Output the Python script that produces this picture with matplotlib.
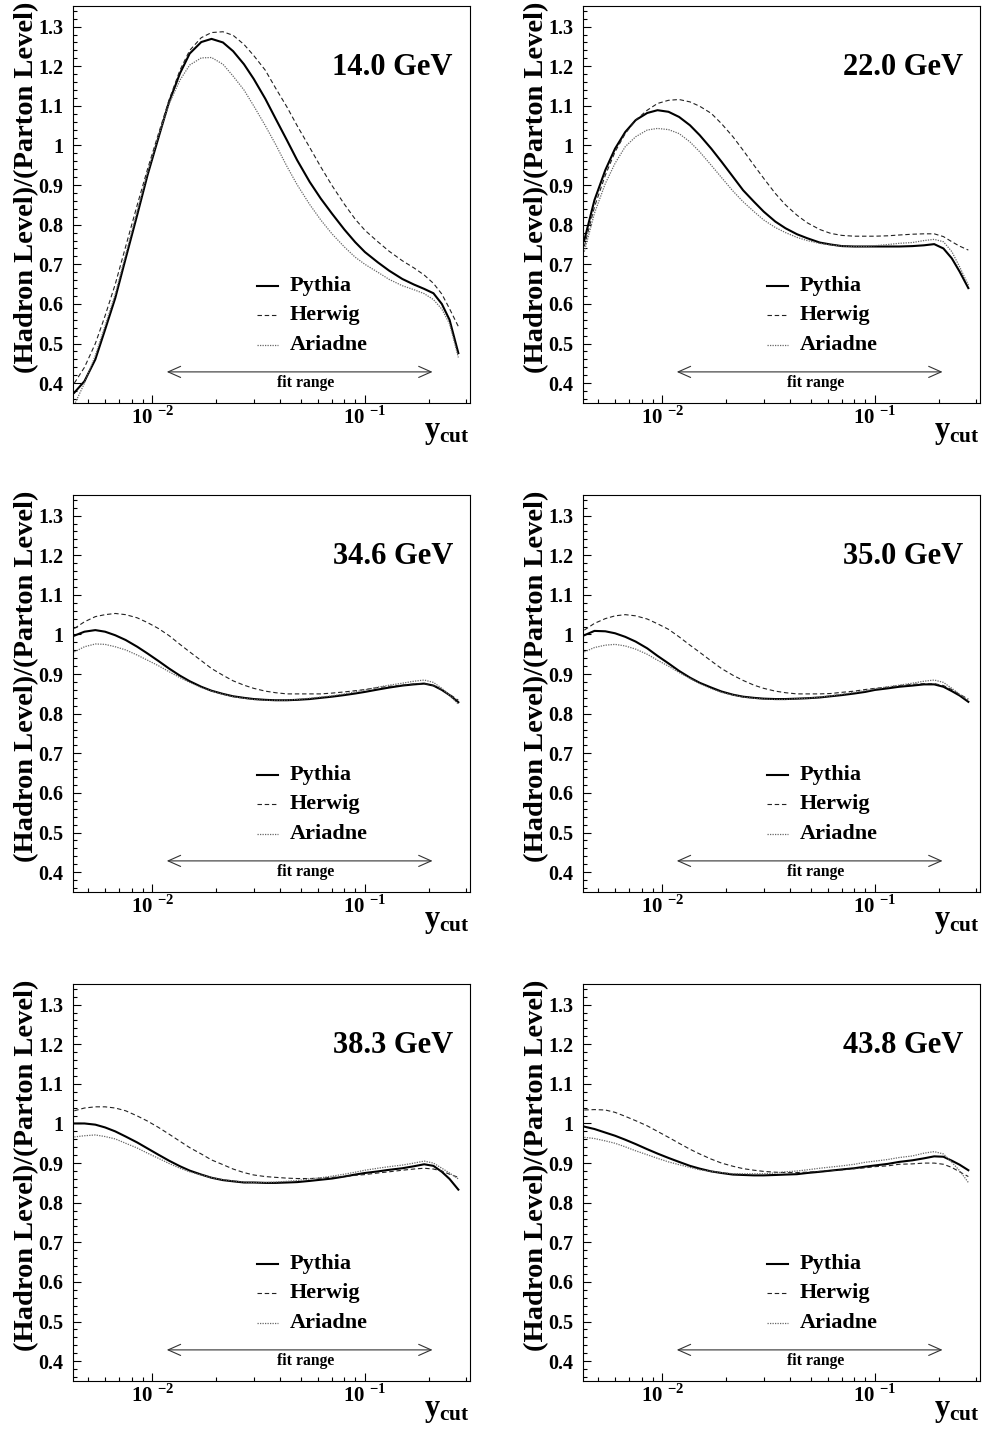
# Ratio hadron level / parton level cho 6 năng lượng
import numpy as np
import matplotlib
matplotlib.use("Agg")
import matplotlib.pyplot as plt
from matplotlib.ticker import MultipleLocator, NullFormatter

plt.rcParams['font.family'] = 'Liberation Serif'
plt.rcParams['font.weight'] = 'bold'
plt.rcParams['mathtext.fontset'] = 'custom'
plt.rcParams['mathtext.rm'] = 'Liberation Serif'
plt.rcParams['mathtext.bf'] = 'Liberation Serif:bold'

# Dữ liệu
ycut = [0.0043, 0.0048, 0.0054, 0.006, 0.0067, 0.0075, 0.0085, 0.0095, 0.0107, 0.012,
        0.0135, 0.015, 0.017, 0.019, 0.0215, 0.024, 0.027, 0.03, 0.034, 0.038,
        0.043, 0.048, 0.055, 0.062, 0.07, 0.08, 0.09, 0.1, 0.115, 0.13,
        0.15, 0.17, 0.19, 0.21, 0.23, 0.25, 0.275]

energies = ["14.0 GeV", "22.0 GeV", "34.6 GeV", "35.0 GeV", "38.3 GeV", "43.8 GeV"]
models = ["Pythia", "Herwig", "Ariadne"]

pythia_14 = [0.376, 0.405, 0.46, 0.535, 0.615, 0.715, 0.825, 0.925, 1.02, 1.11,
             1.182, 1.232, 1.261, 1.269, 1.260, 1.238, 1.205, 1.168, 1.118, 1.068,
             1.013, 0.963, 0.908, 0.866, 0.828, 0.788, 0.756, 0.731, 0.705, 0.684,
             0.663, 0.649, 0.638, 0.627, 0.600, 0.560, 0.476]
herwig_14 = [0.40, 0.44, 0.50, 0.57, 0.65, 0.745, 0.85, 0.94, 1.03, 1.115,
             1.19, 1.24, 1.272, 1.285, 1.287, 1.278, 1.255, 1.227, 1.19, 1.145,
             1.097, 1.05, 0.995, 0.946, 0.899, 0.852, 0.814, 0.786, 0.757, 0.733,
             0.709, 0.691, 0.673, 0.652, 0.625, 0.588, 0.543]
ariadne_14 = [0.345, 0.40, 0.47, 0.545, 0.625, 0.725, 0.835, 0.932, 1.025, 1.105,
              1.165, 1.203, 1.221, 1.222, 1.205, 1.175, 1.140, 1.100, 1.05, 1.003,
              0.947, 0.901, 0.851, 0.812, 0.777, 0.744, 0.718, 0.700, 0.680, 0.662,
              0.646, 0.636, 0.626, 0.611, 0.587, 0.55, 0.465]

pythia_22 = [0.761, 0.862, 0.938, 0.992, 1.034, 1.064, 1.082, 1.089, 1.085, 1.072,
             1.051, 1.026, 0.992, 0.959, 0.921, 0.887, 0.858, 0.833, 0.808, 0.791,
             0.776, 0.766, 0.755, 0.750, 0.746, 0.745, 0.745, 0.745, 0.745, 0.745,
             0.746, 0.748, 0.751, 0.740, 0.715, 0.682, 0.640]
herwig_22 = [0.745, 0.845, 0.925, 0.984, 1.030, 1.064, 1.089, 1.106, 1.114, 1.116,
             1.110, 1.099, 1.081, 1.055, 1.022, 0.988, 0.950, 0.917, 0.879, 0.850,
             0.824, 0.805, 0.788, 0.778, 0.773, 0.771, 0.771, 0.771, 0.772, 0.774,
             0.776, 0.777, 0.777, 0.770, 0.757, 0.746, 0.736]
ariadne_22 = [0.732, 0.829, 0.904, 0.955, 0.997, 1.022, 1.039, 1.043, 1.040, 1.030,
              1.009, 0.984, 0.950, 0.919, 0.885, 0.858, 0.833, 0.812, 0.793, 0.780,
              0.768, 0.760, 0.753, 0.749, 0.746, 0.745, 0.745, 0.747, 0.750, 0.753,
              0.755, 0.760, 0.763, 0.757, 0.732, 0.694, 0.648]

pythia_346 = [0.997, 1.007, 1.011, 1.007, 0.998, 0.986, 0.969, 0.952, 0.933, 0.914,
              0.896, 0.882, 0.868, 0.858, 0.850, 0.844, 0.840, 0.837, 0.835, 0.834,
              0.834, 0.835, 0.837, 0.840, 0.843, 0.847, 0.851, 0.855, 0.861, 0.866,
              0.871, 0.874, 0.876, 0.871, 0.860, 0.847, 0.829]
herwig_346 = [1.015, 1.032, 1.045, 1.050, 1.053, 1.050, 1.042, 1.030, 1.015, 0.997,
              0.975, 0.956, 0.934, 0.914, 0.897, 0.883, 0.872, 0.864, 0.857, 0.853,
              0.850, 0.850, 0.850, 0.850, 0.852, 0.855, 0.858, 0.861, 0.866, 0.869,
              0.872, 0.875, 0.876, 0.871, 0.860, 0.849, 0.834]
ariadne_346 = [0.956, 0.969, 0.976, 0.975, 0.969, 0.961, 0.948, 0.935, 0.921, 0.906,
               0.891, 0.879, 0.866, 0.857, 0.849, 0.843, 0.839, 0.836, 0.834, 0.834,
               0.834, 0.836, 0.839, 0.842, 0.845, 0.850, 0.855, 0.860, 0.867, 0.872,
               0.877, 0.882, 0.885, 0.879, 0.864, 0.847, 0.824]

pythia_35 = [0.998, 1.009, 1.008, 1.003, 0.994, 0.982, 0.965, 0.946, 0.927, 0.908,
             0.891, 0.878, 0.866, 0.856, 0.848, 0.843, 0.840, 0.838, 0.837, 0.837,
             0.838, 0.839, 0.841, 0.844, 0.847, 0.851, 0.855, 0.860, 0.864, 0.868,
             0.871, 0.874, 0.874, 0.868, 0.857, 0.846, 0.830]
herwig_35 = [1.011, 1.028, 1.040, 1.047, 1.050, 1.047, 1.039, 1.027, 1.013, 0.994,
             0.973, 0.955, 0.933, 0.914, 0.897, 0.884, 0.872, 0.864, 0.857, 0.853,
             0.850, 0.850, 0.850, 0.851, 0.854, 0.857, 0.861, 0.864, 0.867, 0.871,
             0.874, 0.876, 0.876, 0.871, 0.861, 0.849, 0.837]
ariadne_35 = [0.956, 0.967, 0.973, 0.975, 0.971, 0.963, 0.950, 0.935, 0.920, 0.904,
              0.889, 0.876, 0.863, 0.854, 0.847, 0.842, 0.839, 0.837, 0.836, 0.836,
              0.838, 0.839, 0.842, 0.845, 0.849, 0.854, 0.858, 0.863, 0.868, 0.872,
              0.877, 0.882, 0.885, 0.879, 0.864, 0.849, 0.834]

pythia_383 = [1.000, 1.000, 0.997, 0.990, 0.980, 0.967, 0.952, 0.937, 0.921, 0.906,
              0.892, 0.881, 0.871, 0.863, 0.857, 0.854, 0.851, 0.851, 0.850, 0.850,
              0.851, 0.852, 0.855, 0.858, 0.861, 0.866, 0.871, 0.875, 0.879, 0.883,
              0.887, 0.892, 0.897, 0.893, 0.878, 0.860, 0.833]
herwig_383 = [1.032, 1.039, 1.042, 1.042, 1.039, 1.032, 1.019, 1.006, 0.990, 0.973,
              0.955, 0.939, 0.923, 0.908, 0.896, 0.885, 0.876, 0.870, 0.866, 0.864,
              0.862, 0.861, 0.861, 0.862, 0.864, 0.866, 0.869, 0.871, 0.875, 0.878,
              0.882, 0.885, 0.887, 0.885, 0.880, 0.872, 0.864]
ariadne_383 = [0.966, 0.969, 0.971, 0.967, 0.961, 0.950, 0.938, 0.925, 0.912, 0.899,
               0.887, 0.878, 0.870, 0.863, 0.858, 0.855, 0.852, 0.851, 0.851, 0.852,
               0.854, 0.856, 0.860, 0.863, 0.867, 0.872, 0.877, 0.882, 0.887, 0.891,
               0.895, 0.900, 0.905, 0.900, 0.887, 0.875, 0.860]

pythia_438 = [0.992, 0.986, 0.977, 0.969, 0.959, 0.948, 0.935, 0.924, 0.913, 0.903,
              0.893, 0.886, 0.879, 0.875, 0.871, 0.870, 0.869, 0.869, 0.870, 0.871,
              0.872, 0.875, 0.878, 0.881, 0.884, 0.887, 0.891, 0.894, 0.898, 0.903,
              0.907, 0.912, 0.917, 0.916, 0.906, 0.896, 0.882]
herwig_438 = [1.034, 1.035, 1.034, 1.028, 1.018, 1.007, 0.994, 0.980, 0.965, 0.950,
              0.935, 0.923, 0.910, 0.900, 0.892, 0.886, 0.882, 0.879, 0.877, 0.876,
              0.876, 0.877, 0.879, 0.881, 0.883, 0.886, 0.888, 0.891, 0.893, 0.897,
              0.898, 0.900, 0.900, 0.897, 0.889, 0.878, 0.866]
ariadne_438 = [0.965, 0.962, 0.956, 0.950, 0.941, 0.931, 0.921, 0.912, 0.903, 0.896,
               0.889, 0.883, 0.879, 0.876, 0.873, 0.873, 0.873, 0.873, 0.875, 0.878,
               0.880, 0.883, 0.887, 0.890, 0.893, 0.897, 0.902, 0.905, 0.909, 0.914,
               0.918, 0.925, 0.929, 0.923, 0.902, 0.881, 0.851]

curves = [
    (pythia_14, herwig_14, ariadne_14),
    (pythia_22, herwig_22, ariadne_22),
    (pythia_346, herwig_346, ariadne_346),
    (pythia_35, herwig_35, ariadne_35),
    (pythia_383, herwig_383, ariadne_383),
    (pythia_438, herwig_438, ariadne_438),
]

# Trục và nhãn
yticks = [0.4, 0.5, 0.6, 0.7, 0.8, 0.9, 1.0, 1.1, 1.2, 1.3]
ytick_labels = ['0.4', '0.5', '0.6', '0.7', '0.8', '0.9', '1', '1.1', '1.2', '1.3']
xticks = [0.01, 0.1]
xtick_labels = [r'$\mathbf{10}^{\ \mathbf{-2}}$', r'$\mathbf{10}^{\ \mathbf{-1}}$']
fit_range = [0.0117, 0.208]

styles = [
    dict(color='black', lw=1.5, ls='-'),
    dict(color='#222222', lw=0.8, ls=(0, (4, 2.5))),
    dict(color='#666666', lw=0.9, ls=(0, (1, 1))),
]

W, H = 995, 1434
fig = plt.figure(figsize=(W / 100, H / 100), dpi=100)

lefts = [73, 583]
tops = [6, 495, 984]
size = 397

for i, energy in enumerate(energies):
    row, col = divmod(i, 2)
    ax = fig.add_axes([lefts[col] / W, 1 - (tops[row] + size) / H, size / W, size / H])

    for vals, st in zip(curves[i], styles):
        ax.plot(ycut, vals, **st)

    ax.set_xscale('log')
    ax.set_xlim(0.00424, 0.312)
    ax.set_ylim(0.35, 1.352)

    ax.set_xticks(xticks)
    ax.set_xticklabels(xtick_labels, fontsize=15)
    ax.xaxis.set_minor_formatter(NullFormatter())
    ax.set_yticks(yticks)
    ax.set_yticklabels(ytick_labels, fontsize=14.5, fontweight='bold')
    ax.yaxis.set_minor_locator(MultipleLocator(0.02))
    ax.tick_params(which='both', direction='in', top=False, right=False, width=0.8)
    ax.tick_params(which='major', length=6)
    ax.tick_params(which='minor', length=3)
    ax.tick_params(axis='y', pad=7)
    ax.tick_params(axis='x', pad=2)
    for sp in ax.spines.values():
        sp.set_linewidth(0.8)

    # Nhãn trục
    ax.text(-0.116, 1.01, '(Hadron Level)/(Parton Level)', rotation=90,
            ha='center', va='top', fontsize=20.5, fontweight='bold',
            transform=ax.transAxes)
    ax.text(1.0, -0.038, r'$\mathbf{y_{cut}}$', ha='right', va='top',
            fontsize=22, transform=ax.transAxes)

    # Năng lượng
    ax.text(0.957, 0.844, energy, ha='right', va='center', fontsize=22,
            fontweight='bold', transform=ax.transAxes)

    # Chú thích
    for k, (name, st) in enumerate(zip(models, styles)):
        yy = [0.295, 0.222, 0.146][k]
        ax.plot([0.4635, 0.516], [yy, yy], transform=ax.transAxes, **st)
        ax.text(0.5466, yy, name, ha='left', va='center', fontsize=16,
                fontweight='bold', transform=ax.transAxes)

    # Khoảng fit
    ax.annotate('', xy=(fit_range[1], 0.4285), xytext=(fit_range[0], 0.4285),
                arrowprops=dict(arrowstyle='<->,head_length=0.9,head_width=0.4',
                                lw=0.8, color='#333333', mutation_scale=10,
                                shrinkA=0, shrinkB=0))
    ax.text(np.sqrt(fit_range[0] * fit_range[1]) * 1.07, 0.40, 'fit range',
            ha='center', va='center', fontsize=11.3, fontweight='bold')

plt.savefig('out.png', dpi=100)
